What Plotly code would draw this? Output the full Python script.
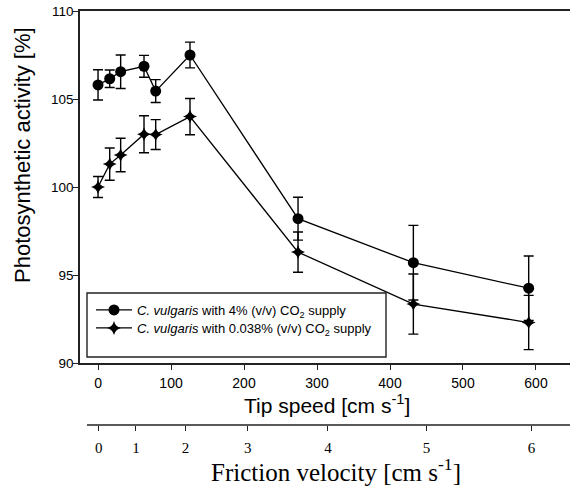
import plotly.graph_objects as go

# Data
tip_speed = [0, 16, 31, 63, 79, 126, 274, 432, 590]
act_4pct = [105.8, 106.15, 106.55, 106.86, 105.45, 107.5, 98.2, 95.7, 94.25]
err_4pct = [0.86, 0.5, 0.95, 0.62, 0.65, 0.73, 1.22, 2.12, 1.83]
act_0038 = [100.0, 101.3, 101.82, 103.0, 102.98, 104.0, 96.3, 93.35, 92.3]
err_0038 = [0.6, 0.92, 0.95, 1.05, 0.85, 1.03, 1.14, 1.71, 1.54]

y_ticks = [90, 95, 100, 105, 110]
x_ticks = [0, 100, 200, 300, 400, 500, 600]
friction_labels = ["0", "1", "2", "3", "4", "5", "6"]
friction_pos = [1, 52, 120, 205, 315, 450, 594]

X_RANGE = [-24.7, 646.6]
SANS = "Liberation Sans, Arial, sans-serif"
SERIF = "Liberation Serif, Times New Roman, serif"
AX = "#222222"

fig = go.Figure()

fig.add_trace(go.Scatter(
    x=tip_speed, y=act_4pct, mode="lines+markers",
    name="<i>C. vulgaris</i> with 4% (v/v) CO<sub>2</sub> supply",
    line=dict(color="black", width=1.3),
    marker=dict(symbol="circle", size=11, color="black"),
    error_y=dict(type="data", array=err_4pct, visible=True, color="black", thickness=1.4, width=5),
    legend="legend",
))
fig.add_trace(go.Scatter(
    x=tip_speed, y=act_0038, mode="lines+markers",
    name="<i>C. vulgaris</i> with 0.038% (v/v) CO<sub>2</sub> supply",
    line=dict(color="black", width=1.3),
    marker=dict(symbol="star-diamond", size=10, color="black"),
    error_y=dict(type="data", array=err_0038, visible=True, color="black", thickness=1.4, width=5),
    legend="legend2",
))
# invisible trace to host the friction-velocity axis
fig.add_trace(go.Scatter(x=[friction_pos[0]], y=[100], xaxis="x2", mode="markers",
                         marker=dict(opacity=0), showlegend=False, hoverinfo="skip"))

ydom0 = 62 / 414
leg_common = dict(xanchor="left", yanchor="top", bgcolor="rgba(0,0,0,0)", borderwidth=0,
                  font=dict(family=SANS, size=13, color="black"), itemwidth=36)

fig.update_layout(
    width=570, height=486,
    margin=dict(l=80, r=0, t=11, b=61),
    paper_bgcolor="white", plot_bgcolor="white",
    showlegend=True,
    legend=dict(x=(91 - 80) / 490, y=(425 - 295) / 414, **leg_common),
    legend2=dict(x=(91 - 80) / 490, y=(425 - 313) / 414, **leg_common),
    xaxis=dict(range=X_RANGE, tickvals=x_ticks, ticks="outside", ticklen=5, tickwidth=1.2,
               tickcolor=AX, showline=True, linecolor=AX, linewidth=1.6, mirror=True,
               showgrid=False, zeroline=False, anchor="y",
               tickfont=dict(family=SANS, size=14, color="black"), ticklabelstandoff=1),
    xaxis2=dict(range=X_RANGE, overlaying="x", anchor="free", position=0, side="bottom",
                tickvals=friction_pos, ticktext=friction_labels, ticks="outside", ticklen=5,
                tickwidth=1.2, tickcolor=AX, showline=False, showgrid=False, zeroline=False,
                tickfont=dict(family=SERIF, size=15, color="black"), ticklabelstandoff=4),
    yaxis=dict(range=[90, 110], domain=[ydom0, 1], tickvals=y_ticks, ticks="outside",
               ticklen=5, tickwidth=1.2, tickcolor=AX, showline=True, linecolor=AX,
               linewidth=1.6, showgrid=False, zeroline=False,
               tickfont=dict(family=SANS, size=13.5, color="black"), ticklabelstandoff=-3),
    shapes=[
        dict(type="line", xref="paper", yref="paper", x0=7 / 490, x1=1, y0=0, y1=0,
             line=dict(color=AX, width=1.6)),
        dict(type="rect", xref="paper", yref="paper", x0=7 / 490, x1=306 / 490,
             y0=(425 - 357) / 414, y1=(425 - 293) / 414,
             line=dict(color=AX, width=1.4), fillcolor="rgba(0,0,0,0)"),
    ],
    annotations=[
        dict(text="Photosynthetic activity [%]", xref="paper", yref="paper",
             x=-58 / 490, y=(425 - 155) / 414, textangle=-90, showarrow=False,
             xanchor="center", yanchor="middle",
             font=dict(family=SANS, size=22, color="black")),
        dict(text="Tip speed [cm s<sup>-1</sup>]", xref="paper", yref="paper",
             x=(327 - 80) / 490, y=(425 - 404) / 414, showarrow=False,
             xanchor="center", yanchor="middle",
             font=dict(family=SANS, size=21, color="black")),
        dict(text="Friction velocity [cm s<sup>-1</sup>]", xref="paper", yref="paper",
             x=(336 - 80) / 490, y=(425 - 470) / 414, showarrow=False,
             xanchor="center", yanchor="middle",
             font=dict(family=SERIF, size=25, color="black")),
    ],
)

fig.write_html("out.html",
               config={"displayModeBar": False},
               post_script="document.body.style.margin='0';document.body.style.overflow='hidden';")
